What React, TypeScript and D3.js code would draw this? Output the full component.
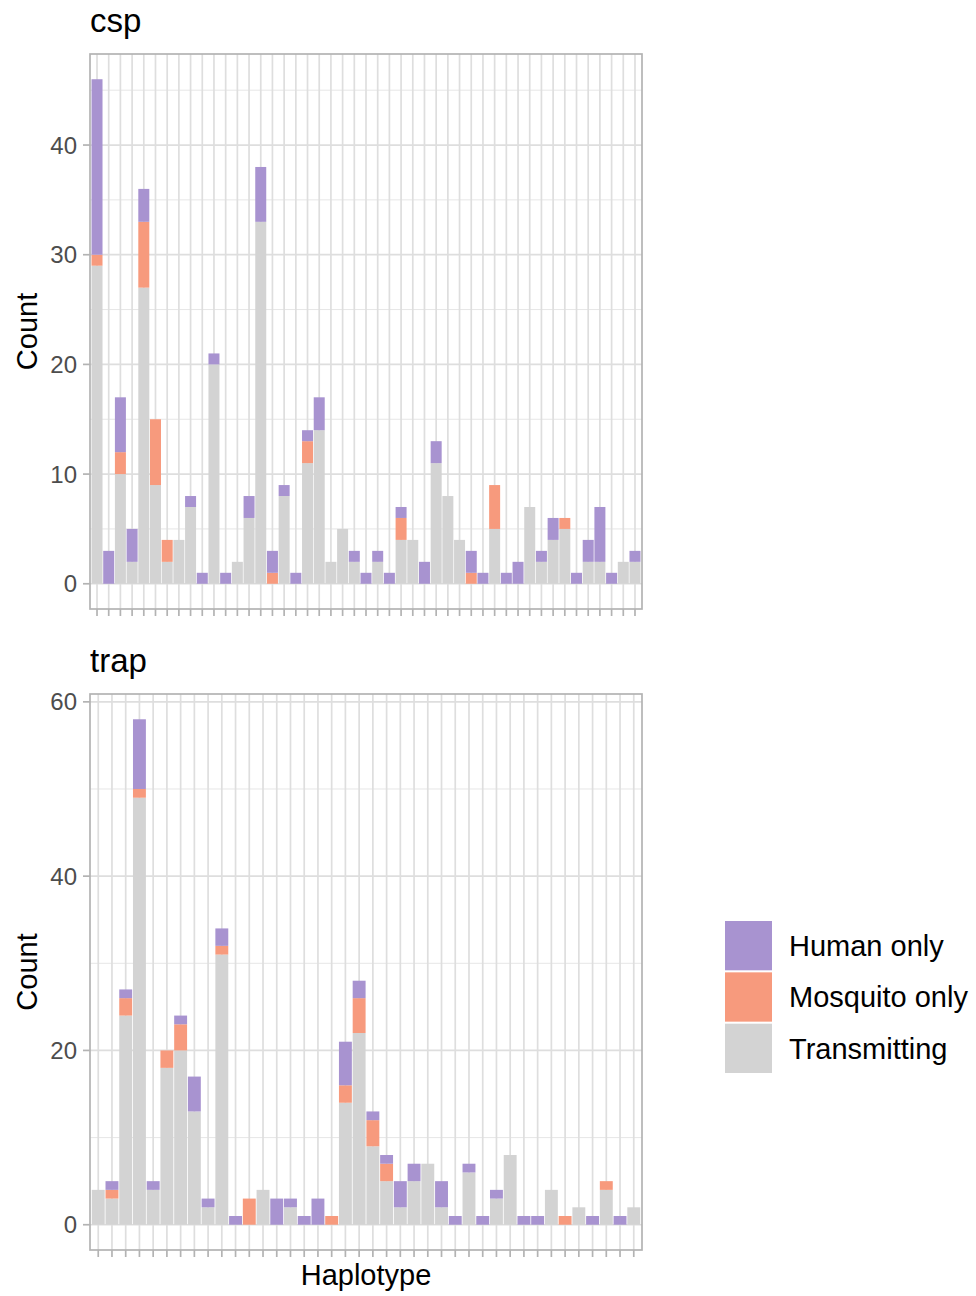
import React from 'react';
import * as d3 from 'd3';

// csp haplotypes: counts per category (bottom to top: transmitting, mosquito, human)
const cspTransmitting = [29, 0, 10, 2, 27, 9, 2, 4, 7, 0, 20, 0, 2, 6, 33, 0, 8, 0, 11, 14, 2, 5, 2, 0, 2, 0, 4, 4, 0, 11, 8, 4, 0, 0, 5, 0, 0, 7, 2, 4, 5, 0, 2, 2, 0, 2, 2];
const cspMosquito = [1, 0, 2, 0, 6, 6, 2, 0, 0, 0, 0, 0, 0, 0, 0, 1, 0, 0, 2, 0, 0, 0, 0, 0, 0, 0, 2, 0, 0, 0, 0, 0, 1, 0, 4, 0, 0, 0, 0, 0, 1, 0, 0, 0, 0, 0, 0];
const cspHuman = [16, 3, 5, 3, 3, 0, 0, 0, 1, 1, 1, 1, 0, 2, 5, 2, 1, 1, 1, 3, 0, 0, 1, 1, 1, 1, 1, 0, 2, 2, 0, 0, 2, 1, 0, 1, 2, 0, 1, 2, 0, 1, 2, 5, 1, 0, 1];

// trap haplotypes
const trapTransmitting = [4, 3, 24, 49, 4, 18, 20, 13, 2, 31, 0, 0, 4, 0, 2, 0, 0, 0, 14, 22, 9, 5, 2, 5, 7, 2, 0, 6, 0, 3, 8, 0, 0, 4, 0, 2, 0, 4, 0, 2];
const trapMosquito = [0, 1, 2, 1, 0, 2, 3, 0, 0, 1, 0, 3, 0, 0, 0, 0, 0, 1, 2, 4, 3, 2, 0, 0, 0, 0, 0, 0, 0, 0, 0, 0, 0, 0, 1, 0, 0, 1, 0, 0];
const trapHuman = [0, 1, 1, 8, 1, 0, 1, 4, 1, 2, 1, 0, 0, 3, 1, 1, 3, 0, 5, 2, 1, 1, 3, 2, 0, 3, 1, 1, 1, 1, 0, 1, 1, 0, 0, 0, 1, 0, 1, 0];

const cspTicks = [0, 10, 20, 30, 40];
const trapTicks = [0, 20, 40, 60];

const groups = ['Human only', 'Mosquito only', 'Transmitting'];
const colors = ['#A893D0', '#F79A7D', '#D3D3D3'];

const FONT = '"Liberation Sans", Arial, Helvetica, sans-serif';
const panelLeft = 90;
const panelRight = 642;

const Panel = ({ title, transmitting, mosquito, human, ticks, top, bottom }) => {
  const ids = transmitting.map((_, i) => `${title}_${i + 1}`);
  const totals = transmitting.map((t, i) => t + mosquito[i] + human[i]);
  const maxV = d3.max(totals);

  const x = d3.scalePoint().domain(ids).range([panelLeft, panelRight]).padding(0.6);
  const y = d3.scaleLinear().domain([-maxV * 0.05, maxV * 1.05]).range([bottom, top]);
  const bw = x.step() * 0.94;

  const step = ticks[1] - ticks[0];
  const minor = d3.range(ticks[0] + step / 2, maxV * 1.05, step);

  // stack: transmitting at bottom, then mosquito, then human
  const rows = ids.map((id, i) => ({ id, Transmitting: transmitting[i], 'Mosquito only': mosquito[i], 'Human only': human[i] }));
  const series = d3.stack().keys(['Transmitting', 'Mosquito only', 'Human only'])(rows);

  return (
    <g>
      <text x={panelLeft} y={top - 22} fontSize={33} fill="#000" fontFamily={FONT}>{title}</text>
      {minor.map((v) => (
        <line key={'mn' + v} x1={panelLeft} x2={panelRight} y1={y(v)} y2={y(v)} stroke="#E6E6E6" strokeWidth={1} />
      ))}
      {ticks.map((v) => (
        <line key={'mj' + v} x1={panelLeft} x2={panelRight} y1={y(v)} y2={y(v)} stroke="#DEDEDE" strokeWidth={1.7} />
      ))}
      {ids.map((id) => (
        <line key={'vx' + id} x1={x(id)} x2={x(id)} y1={top} y2={bottom} stroke="#DEDEDE" strokeWidth={1.7} />
      ))}
      {series.map((s) => (
        <g key={s.key} fill={colors[groups.indexOf(s.key)]}>
          {s.map((d, i) => d[1] > d[0] ? (
            <rect key={i} x={x(ids[i]) - bw / 2} width={bw} y={y(d[1])} height={y(d[0]) - y(d[1])} />
          ) : null)}
        </g>
      ))}
      <rect x={panelLeft} y={top} width={panelRight - panelLeft} height={bottom - top} fill="none" stroke="#B3B3B3" strokeWidth={1.7} />
      {ticks.map((v) => (
        <g key={'yt' + v}>
          <line x1={panelLeft - 7} x2={panelLeft} y1={y(v)} y2={y(v)} stroke="#B3B3B3" strokeWidth={1.7} />
          <text x={panelLeft - 13} y={y(v)} dy="0.36em" textAnchor="end" fontSize={24} fill="#4D4D4D" fontFamily={FONT}>{v}</text>
        </g>
      ))}
      {ids.map((id) => (
        <line key={'xt' + id} x1={x(id)} x2={x(id)} y1={bottom} y2={bottom + 7} stroke="#B3B3B3" strokeWidth={1.7} />
      ))}
      <text transform={`translate(37,${(top + bottom) / 2}) rotate(-90)`} textAnchor="middle" fontSize={29} fill="#000" fontFamily={FONT}>Count</text>
    </g>
  );
};

export default function App() {
  const legendY = d3.scaleBand().domain(groups).range([921, 1073]).paddingInner(0.04);
  return (
    <svg width={976} height={1296} style={{ position: 'absolute', left: 0, top: 0, background: '#fff' }}>
      <rect width={976} height={1296} fill="#fff" />
      <Panel title="csp" transmitting={cspTransmitting} mosquito={cspMosquito} human={cspHuman} ticks={cspTicks} top={54} bottom={609} />
      <Panel title="trap" transmitting={trapTransmitting} mosquito={trapMosquito} human={trapHuman} ticks={trapTicks} top={694} bottom={1250} />
      <text x={(panelLeft + panelRight) / 2} y={1285} textAnchor="middle" fontSize={29} fill="#000" fontFamily={FONT}>Haplotype</text>
      {groups.map((g, i) => (
        <g key={g}>
          <rect x={725} y={legendY(g)} width={47} height={legendY.bandwidth()} fill={colors[i]} />
          <text x={789} y={legendY(g) + legendY.bandwidth() / 2} dy="0.36em" fontSize={29} fill="#000" fontFamily={FONT}>{g}</text>
        </g>
      ))}
    </svg>
  );
}
